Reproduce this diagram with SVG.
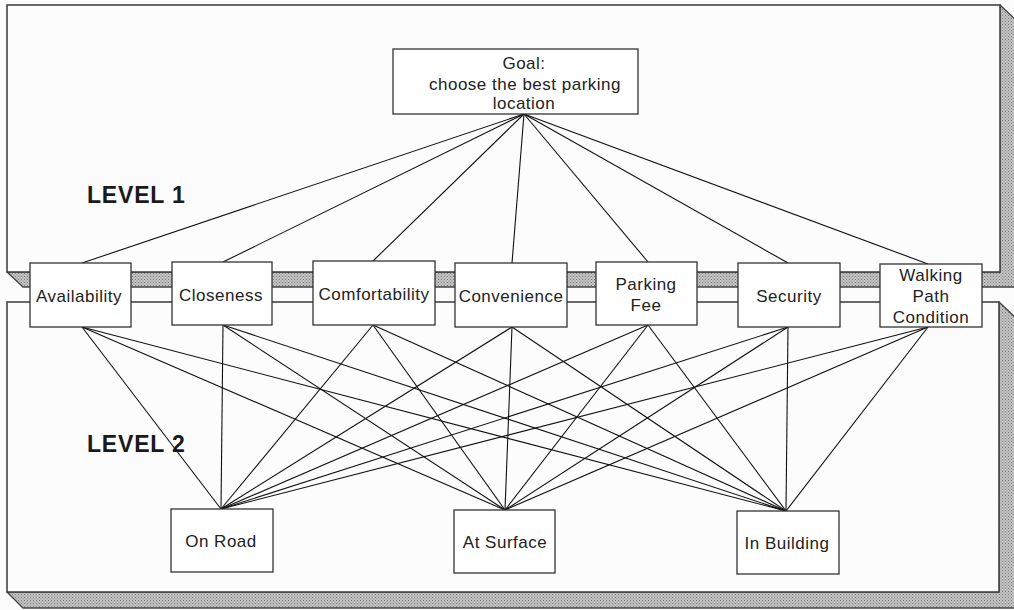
<svg xmlns="http://www.w3.org/2000/svg" width="1014" height="610" viewBox="0 0 1014 610">
<defs>
<pattern id="stip" width="3" height="3" patternUnits="userSpaceOnUse">
<rect width="3" height="3" fill="#c4c4c4"/>
<rect x="0" y="0" width="1" height="1" fill="#7a7a7a"/>
<rect x="1.5" y="1.5" width="1" height="1" fill="#8a8a8a"/>
</pattern>
<style>
.face{fill:#fdfcfd;stroke:#444;stroke-width:1.6}
.shade{fill:url(#stip);stroke:#444;stroke-width:1.4;stroke-linejoin:round}
.box{fill:#fff;stroke:#333;stroke-width:1.3}
.t{font-family:"Liberation Sans",Arial,sans-serif;font-size:17px;fill:#222;text-anchor:middle;letter-spacing:0.5px}
.lv{font-family:"Liberation Sans",Arial,sans-serif;font-size:23px;font-weight:bold;fill:#1a1a1a;letter-spacing:0.8px}
.c line{stroke:#111;stroke-width:1.1}
</style>
</defs>
<rect width="1014" height="610" fill="#fdfcfd"/>
<g id="panel-upper">
<polygon class="shade" points="1000,5 1016,20 1016,287 23,287 7,272 1000,272"/>
<rect class="face" x="7" y="5" width="993" height="267"/>
</g>
<g id="panel-lower">
<polygon class="shade" points="999,302 1016,318 1016,608 23,608 7,592 999,592"/>
<rect class="face" x="7" y="302" width="992" height="290"/>
</g>
<text class="lv" x="87" y="203">LEVEL 1</text>
<text class="lv" x="87" y="452">LEVEL 2</text>
<g id="connectors" class="c">
<line x1="524" y1="114" x2="82" y2="263"/>
<line x1="524" y1="114" x2="223" y2="262"/>
<line x1="524" y1="114" x2="373" y2="261"/>
<line x1="524" y1="114" x2="512" y2="263"/>
<line x1="524" y1="114" x2="648" y2="262"/>
<line x1="524" y1="114" x2="788" y2="263"/>
<line x1="524" y1="114" x2="928" y2="264"/>
<line x1="82" y1="327" x2="221" y2="509"/>
<line x1="82" y1="327" x2="505" y2="510"/>
<line x1="82" y1="327" x2="786" y2="511"/>
<line x1="223" y1="325" x2="221" y2="509"/>
<line x1="223" y1="325" x2="505" y2="510"/>
<line x1="223" y1="325" x2="786" y2="511"/>
<line x1="373" y1="325" x2="221" y2="509"/>
<line x1="373" y1="325" x2="505" y2="510"/>
<line x1="373" y1="325" x2="786" y2="511"/>
<line x1="512" y1="327" x2="221" y2="509"/>
<line x1="512" y1="327" x2="505" y2="510"/>
<line x1="512" y1="327" x2="786" y2="511"/>
<line x1="648" y1="325" x2="221" y2="509"/>
<line x1="648" y1="325" x2="505" y2="510"/>
<line x1="648" y1="325" x2="786" y2="511"/>
<line x1="788" y1="327" x2="221" y2="509"/>
<line x1="788" y1="327" x2="505" y2="510"/>
<line x1="788" y1="327" x2="786" y2="511"/>
<line x1="928" y1="327" x2="221" y2="509"/>
<line x1="928" y1="327" x2="505" y2="510"/>
<line x1="928" y1="327" x2="786" y2="511"/>
</g>
<g id="goal">
<rect class="box" x="393" y="49" width="245" height="65"/>
<text class="t" x="524" y="69">Goal:</text>
<text class="t" x="525" y="90">choose the best parking</text>
<text class="t" x="524" y="109">location</text>
</g>
<g id="availability">
<rect class="box" x="30" y="263" width="101" height="64"/>
<text class="t" x="79" y="302">Availability</text>
</g>
<g id="closeness">
<rect class="box" x="172" y="262" width="100" height="63"/>
<text class="t" x="221" y="301">Closeness</text>
</g>
<g id="comfortability">
<rect class="box" x="313" y="261" width="122" height="64"/>
<text class="t" x="374" y="300">Comfortability</text>
</g>
<g id="convenience">
<rect class="box" x="455" y="263" width="112" height="64"/>
<text class="t" x="511" y="302">Convenience</text>
</g>
<g id="parking-fee">
<rect class="box" x="596" y="262" width="101" height="63"/>
<text class="t" x="646" y="290">Parking</text>
<text class="t" x="646" y="311">Fee</text>
</g>
<g id="security">
<rect class="box" x="738" y="263" width="102" height="64"/>
<text class="t" x="789" y="302">Security</text>
</g>
<g id="walking-path-condition">
<rect class="box" x="880" y="264" width="102" height="63"/>
<text class="t" x="931" y="281">Walking</text>
<text class="t" x="931" y="302">Path</text>
<text class="t" x="931" y="323">Condition</text>
</g>
<g id="on-road">
<rect class="box" x="171" y="509" width="102" height="63"/>
<text class="t" x="221" y="547">On Road</text>
</g>
<g id="at-surface">
<rect class="box" x="454" y="510" width="101" height="63"/>
<text class="t" x="505" y="548">At Surface</text>
</g>
<g id="in-building">
<rect class="box" x="737" y="511" width="102" height="63"/>
<text class="t" x="787" y="549">In Building</text>
</g>
</svg>
